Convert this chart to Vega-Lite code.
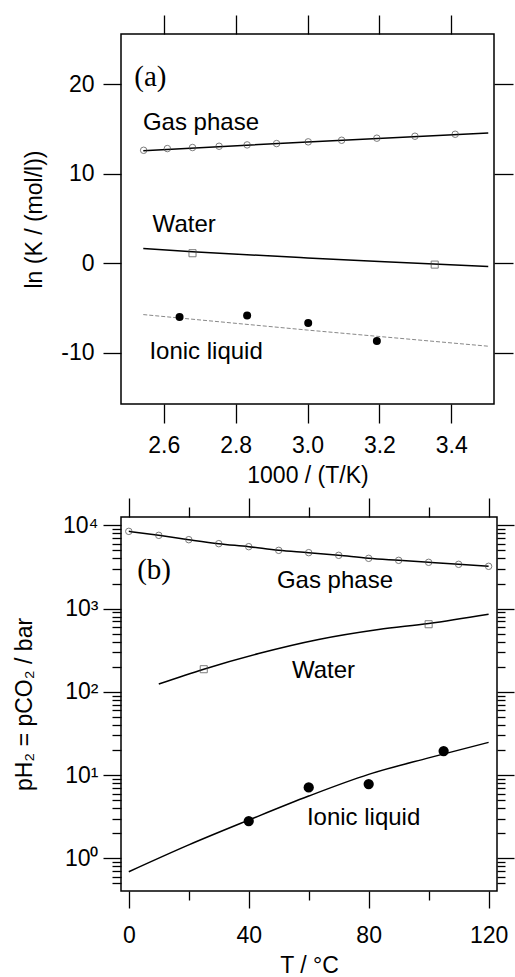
{
  "$schema": "https://vega.github.io/schema/vega-lite/v6.json",
  "padding": {"top": 13, "left": 12, "right": 0, "bottom": 0},
  "autosize": {"type": "pad"},
  "spacing": 8,
  "config": {
    "view": {"stroke": "black", "strokeWidth": 1.5},
    "font": "Liberation Sans",
    "axis": {
      "grid": false, "domain": false, "tickColor": "black", "tickWidth": 1.3,
      "labelFont": "Liberation Sans", "labelFontSize": 23, "labelColor": "black",
      "titleFont": "Liberation Sans", "titleFontSize": 23, "titleColor": "black", "titleFontWeight": "normal"
    }
  },
  "datasets": {
    "topPts": [
      {"series": "gas", "x": 2.544, "y": 12.62}, {"series": "gas", "x": 2.610, "y": 12.81},
      {"series": "gas", "x": 2.680, "y": 12.93}, {"series": "gas", "x": 2.754, "y": 13.07},
      {"series": "gas", "x": 2.832, "y": 13.22}, {"series": "gas", "x": 2.914, "y": 13.37},
      {"series": "gas", "x": 3.002, "y": 13.56}, {"series": "gas", "x": 3.095, "y": 13.74},
      {"series": "gas", "x": 3.193, "y": 13.97}, {"series": "gas", "x": 3.299, "y": 14.19},
      {"series": "gas", "x": 3.411, "y": 14.41},
      {"series": "water", "x": 2.680, "y": 1.13}, {"series": "water", "x": 3.354, "y": -0.14},
      {"series": "ionic", "x": 2.644, "y": -5.98}, {"series": "ionic", "x": 2.832, "y": -5.83},
      {"series": "ionic", "x": 3.002, "y": -6.65}, {"series": "ionic", "x": 3.193, "y": -8.66}
    ],
    "topLines": [
      {"series": "gas", "x": 2.543, "y": 12.58}, {"series": "gas", "x": 3.0, "y": 13.55}, {"series": "gas", "x": 3.503, "y": 14.56},
      {"series": "water", "x": 2.543, "y": 1.65}, {"series": "water", "x": 2.68, "y": 1.3}, {"series": "water", "x": 3.0, "y": 0.6},
      {"series": "water", "x": 3.2, "y": 0.2}, {"series": "water", "x": 3.503, "y": -0.36},
      {"series": "ionic", "x": 2.543, "y": -5.72}, {"series": "ionic", "x": 3.0, "y": -7.45}, {"series": "ionic", "x": 3.503, "y": -9.25}
    ],
    "topLabels": [
      {"label": "Gas phase", "x": 2.542, "y": 15.68},
      {"label": "Water", "x": 2.569, "y": 4.26},
      {"label": "Ionic liquid", "x": 2.56, "y": -9.88}
    ],
    "botPts": [
      {"series": "gas", "T": 0, "p": 8470}, {"series": "gas", "T": 10, "p": 7585},
      {"series": "gas", "T": 20, "p": 6730}, {"series": "gas", "T": 30, "p": 6025},
      {"series": "gas", "T": 40, "p": 5545}, {"series": "gas", "T": 50, "p": 5010},
      {"series": "gas", "T": 60, "p": 4700}, {"series": "gas", "T": 70, "p": 4365},
      {"series": "gas", "T": 80, "p": 4017}, {"series": "gas", "T": 90, "p": 3800},
      {"series": "gas", "T": 100, "p": 3597}, {"series": "gas", "T": 110, "p": 3404},
      {"series": "gas", "T": 120, "p": 3221},
      {"series": "water", "T": 25, "p": 187}, {"series": "water", "T": 100, "p": 649},
      {"series": "ionic", "T": 40, "p": 2.8}, {"series": "ionic", "T": 60, "p": 7.1},
      {"series": "ionic", "T": 80, "p": 7.8}, {"series": "ionic", "T": 105, "p": 19.4}
    ],
    "botLines": [
      {"series": "gas", "T": 0, "p": 8470}, {"series": "gas", "T": 10, "p": 7585},
      {"series": "gas", "T": 20, "p": 6730}, {"series": "gas", "T": 30, "p": 6025},
      {"series": "gas", "T": 40, "p": 5545}, {"series": "gas", "T": 50, "p": 5010},
      {"series": "gas", "T": 60, "p": 4700}, {"series": "gas", "T": 70, "p": 4365},
      {"series": "gas", "T": 80, "p": 4017}, {"series": "gas", "T": 90, "p": 3800},
      {"series": "gas", "T": 100, "p": 3597}, {"series": "gas", "T": 110, "p": 3404},
      {"series": "gas", "T": 120, "p": 3221},
      {"series": "water", "T": 10, "p": 124}, {"series": "water", "T": 25, "p": 187},
      {"series": "water", "T": 43.3, "p": 288}, {"series": "water", "T": 63.3, "p": 425},
      {"series": "water", "T": 83.3, "p": 560}, {"series": "water", "T": 100, "p": 662},
      {"series": "water", "T": 120, "p": 855},
      {"series": "ionic", "T": 0, "p": 0.69}, {"series": "ionic", "T": 20, "p": 1.45},
      {"series": "ionic", "T": 40, "p": 2.88}, {"series": "ionic", "T": 60, "p": 5.6},
      {"series": "ionic", "T": 80, "p": 10.2}, {"series": "ionic", "T": 100, "p": 16.1},
      {"series": "ionic", "T": 120, "p": 24.7}
    ],
    "botLabels": [
      {"label": "Gas phase", "T": 49.4, "p": 2128},
      {"label": "Water", "T": 54.4, "p": 177},
      {"label": "Ionic liquid", "T": 59.4, "p": 3.08}
    ]
  },
  "vconcat": [
    {
      "width": 373,
      "height": 370,
      "resolve": {"axis": {"x": "independent", "y": "independent"}},
      "layer": [
        {
          "data": {"name": "topLines"},
          "transform": [{"filter": "datum.series !== 'ionic'"}],
          "mark": {"type": "line", "color": "black", "strokeWidth": 1.5, "interpolate": "monotone", "clip": true},
          "encoding": {
            "x": {"field": "x", "type": "quantitative", "scale": {"domain": [2.481, 3.519], "nice": false, "zero": false},
              "axis": {"orient": "bottom", "values": [2.6, 2.8, 3.0, 3.2, 3.4], "format": ".1f", "tickSize": 19, "labelPadding": 11, "title": "1000 / (T/K)", "titlePadding": 7}},
            "y": {"field": "y", "type": "quantitative", "scale": {"domain": [-15.7, 25.6], "nice": false, "zero": false},
              "axis": {"orient": "left", "values": [-10, 0, 10, 20], "labelExpr": "datum.value + ''", "tickSize": 18, "labelPadding": 9, "title": "ln (K / (mol/l))", "titlePadding": 14}},
            "detail": {"field": "series"}
          }
        },
        {
          "data": {"name": "topLines"},
          "transform": [{"filter": "datum.series === 'ionic'"}],
          "mark": {"type": "line", "color": "#888888", "strokeWidth": 1, "strokeDash": [4, 2], "clip": true},
          "encoding": {
            "x": {"field": "x", "type": "quantitative", "axis": {"orient": "top", "values": [2.6, 2.8, 3.0, 3.2, 3.4], "labels": false, "tickSize": 19, "title": null}},
            "y": {"field": "y", "type": "quantitative", "axis": {"orient": "right", "values": [-10, 0, 10, 20], "labels": false, "tickSize": 19, "title": null}}
          }
        },
        {
          "data": {"name": "topPts"},
          "transform": [{"filter": "datum.series === 'gas'"}],
          "mark": {"type": "point", "shape": "circle", "filled": false, "stroke": "#444444", "strokeWidth": 1, "size": 42},
          "encoding": {
            "x": {"field": "x", "type": "quantitative", "axis": null},
            "y": {"field": "y", "type": "quantitative", "axis": null}
          }
        },
        {
          "data": {"name": "topPts"},
          "transform": [{"filter": "datum.series === 'water'"}],
          "mark": {"type": "point", "shape": "square", "filled": false, "stroke": "#444444", "strokeWidth": 1, "size": 50},
          "encoding": {
            "x": {"field": "x", "type": "quantitative", "axis": null},
            "y": {"field": "y", "type": "quantitative", "axis": null}
          }
        },
        {
          "data": {"name": "topPts"},
          "transform": [{"filter": "datum.series === 'ionic'"}],
          "mark": {"type": "point", "shape": "circle", "filled": true, "color": "black", "opacity": 1, "size": 64},
          "encoding": {
            "x": {"field": "x", "type": "quantitative", "axis": null},
            "y": {"field": "y", "type": "quantitative", "axis": null}
          }
        },
        {
          "data": {"name": "topLabels"},
          "mark": {"type": "text", "align": "left", "baseline": "middle", "font": "Liberation Sans", "fontSize": 24, "color": "black"},
          "encoding": {
            "x": {"field": "x", "type": "quantitative", "axis": null},
            "y": {"field": "y", "type": "quantitative", "axis": null},
            "text": {"field": "label"}
          }
        },
        {
          "data": {"values": [{"label": "(a)", "x": 2.518, "y": 20.8}]},
          "mark": {"type": "text", "align": "left", "baseline": "middle", "font": "Liberation Serif", "fontSize": 29, "color": "black"},
          "encoding": {
            "x": {"field": "x", "type": "quantitative", "axis": null},
            "y": {"field": "y", "type": "quantitative", "axis": null},
            "text": {"field": "label"}
          }
        }
      ]
    },
    {
      "width": 376,
      "height": 374,
      "resolve": {"axis": {"x": "independent", "y": "independent"}},
      "layer": [
        {
          "data": {"name": "botLines"},
          "mark": {"type": "line", "color": "black", "strokeWidth": 1.5, "interpolate": "monotone", "clip": true},
          "encoding": {
            "x": {"field": "T", "type": "quantitative", "scale": {"domain": [-2.6, 122.8], "nice": false, "zero": false},
              "axis": {"orient": "bottom", "values": [0, 40, 80, 120], "tickSize": 17, "labelPadding": 16, "title": "T / °C", "titlePadding": 7}},
            "y": {"field": "p", "type": "quantitative", "scale": {"type": "log", "domain": [0.405, 12600], "nice": false},
              "axis": {"orient": "left", "values": [1, 10, 100, 1000, 10000], "tickSize": 18, "labelPadding": 5,
                "labelExpr": "datum.value == 1 ? '10⁰' : datum.value == 10 ? '10¹' : datum.value == 100 ? '10²' : datum.value == 1000 ? '10³' : '10⁴'",
                "title": "pH₂ = pCO₂ / bar", "titlePadding": 26}},
            "detail": {"field": "series"}
          }
        },
        {
          "data": {"name": "botPts"},
          "transform": [{"filter": "datum.series === 'gas'"}],
          "mark": {"type": "point", "shape": "circle", "filled": false, "stroke": "#444444", "strokeWidth": 1, "size": 42},
          "encoding": {
            "x": {"field": "T", "type": "quantitative", "axis": {"orient": "bottom", "values": [20, 60, 100], "labels": false, "tickSize": 9, "title": null}},
            "y": {"field": "p", "type": "quantitative", "axis": {"orient": "left", "values": [0.5, 0.6, 0.7, 0.8, 0.9, 2, 3, 4, 5, 6, 7, 8, 9, 20, 30, 40, 50, 60, 70, 80, 90, 200, 300, 400, 500, 600, 700, 800, 900, 2000, 3000, 4000, 5000, 6000, 7000, 8000, 9000], "labels": false, "tickSize": 9, "title": null}}
          }
        },
        {
          "data": {"name": "botPts"},
          "transform": [{"filter": "datum.series === 'water'"}],
          "mark": {"type": "point", "shape": "square", "filled": false, "stroke": "#444444", "strokeWidth": 1, "size": 50},
          "encoding": {
            "x": {"field": "T", "type": "quantitative", "axis": {"orient": "top", "values": [0, 40, 80, 120], "labels": false, "tickSize": 19, "title": null}},
            "y": {"field": "p", "type": "quantitative", "axis": {"orient": "right", "values": [1, 10, 100, 1000, 10000], "labels": false, "tickSize": 17, "title": null}}
          }
        },
        {
          "data": {"name": "botPts"},
          "transform": [{"filter": "datum.series === 'ionic'"}],
          "mark": {"type": "point", "shape": "circle", "filled": true, "color": "black", "opacity": 1, "size": 105},
          "encoding": {
            "x": {"field": "T", "type": "quantitative", "axis": {"orient": "top", "values": [20, 60, 100], "labels": false, "tickSize": 10, "title": null}},
            "y": {"field": "p", "type": "quantitative", "axis": {"orient": "right", "values": [0.5, 0.6, 0.7, 0.8, 0.9, 2, 3, 4, 5, 6, 7, 8, 9, 20, 30, 40, 50, 60, 70, 80, 90, 200, 300, 400, 500, 600, 700, 800, 900, 2000, 3000, 4000, 5000, 6000, 7000, 8000, 9000], "labels": false, "tickSize": 8, "title": null}}
          }
        },
        {
          "data": {"name": "botLabels"},
          "mark": {"type": "text", "align": "left", "baseline": "middle", "font": "Liberation Sans", "fontSize": 24, "color": "black"},
          "encoding": {
            "x": {"field": "T", "type": "quantitative", "axis": null},
            "y": {"field": "p", "type": "quantitative", "axis": null},
            "text": {"field": "label"}
          }
        },
        {
          "data": {"values": [{"label": "(b)", "T": 2.8, "p": 2884}]},
          "mark": {"type": "text", "align": "left", "baseline": "middle", "font": "Liberation Serif", "fontSize": 29, "color": "black"},
          "encoding": {
            "x": {"field": "T", "type": "quantitative", "axis": null},
            "y": {"field": "p", "type": "quantitative", "axis": null},
            "text": {"field": "label"}
          }
        }
      ]
    }
  ]
}
